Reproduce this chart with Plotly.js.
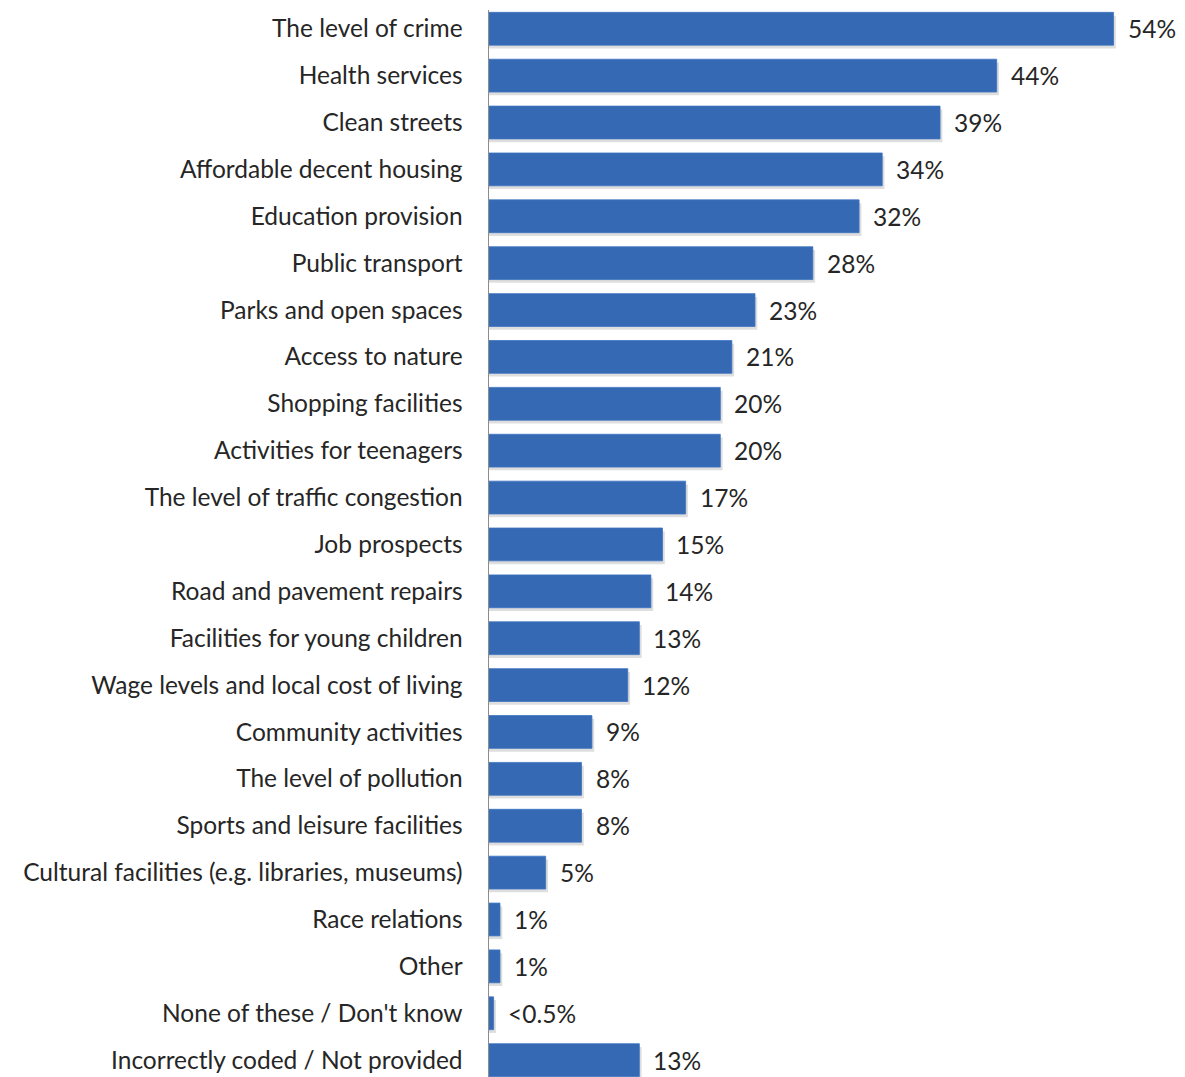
<!DOCTYPE html>
<html>
<head>
<meta charset="utf-8">
<script src="https://cdn.plot.ly/plotly-3.0.1.min.js"></script>
<style>
html,body{margin:0;padding:0;background:#fff;overflow:hidden;}
#chart{width:1185px;height:1077px;}
</style>
</head>
<body>
<div id="chart"></div>
<script>
const categories = [
  "The level of crime",
  "Health services",
  "Clean streets",
  "Affordable decent housing",
  "Education provision",
  "Public transport",
  "Parks and open spaces",
  "Access to nature",
  "Shopping facilities",
  "Activities for teenagers",
  "The level of traffic congestion",
  "Job prospects",
  "Road and pavement repairs",
  "Facilities for young children",
  "Wage levels and local cost of living",
  "Community activities",
  "The level of pollution",
  "Sports and leisure facilities",
  "Cultural facilities (e.g. libraries, museums)",
  "Race relations",
  "Other",
  "None of these / Don't know",
  "Incorrectly coded / Not provided"
];
const values = [54.0, 43.9, 39.0, 34.0, 32.0, 28.0, 23.0, 21.0, 20.0, 20.0, 17.0, 15.0, 14.0, 13.0, 12.0, 8.9, 8.0, 8.0, 4.9, 0.95, 0.95, 0.4, 13.0];
const valueLabels = ["54%","44%","39%","34%","32%","28%","23%","21%","20%","20%","17%","15%","14%","13%","12%","9%","8%","8%","5%","1%","1%","<0.5%","13%"];

const FONT = "Lato, 'Open Sans', sans-serif";

const shadow = {
  type: 'bar', orientation: 'h',
  y: categories, x: values.map(v => v + 0.2),
  width: 0.7, offset: -0.28,
  marker: {color: 'rgba(0,0,0,0.13)', line: {width: 0}},
  hoverinfo: 'skip', showlegend: false
};
const bars = {
  type: 'bar', orientation: 'h',
  y: categories, x: values,
  width: 0.7, offset: -0.35,
  marker: {color: '#3569b4', line: {color: '#3d74c2', width: 0.8}},
  showlegend: false
};

const annotations = categories.map((c, i) => ({
  x: values[i], y: c, xref: 'x', yref: 'y',
  text: valueLabels[i], showarrow: false,
  xanchor: 'left', yanchor: 'middle', xshift: 12,
  font: {family: FONT, size: 24.5, color: '#262626'}
}));

const layout = {
  width: 1185, height: 1077,
  margin: {l: 489, r: 0, t: 10, b: 0, pad: 0},
  paper_bgcolor: '#fff', plot_bgcolor: '#fff',
  barmode: 'overlay',
  showlegend: false,
  xaxis: {
    range: [0, 60.18], visible: false, fixedrange: true
  },
  yaxis: {
    type: 'category',
    range: [22.36, -0.4],
    showgrid: false, zeroline: false,
    showline: true, linecolor: '#8c8c8c', linewidth: 1.5,
    ticks: '', ticklabelstandoff: 20,
    tickfont: {family: FONT, size: 24.5, color: '#262626'},
    fixedrange: true
  },
  annotations: annotations
};

Plotly.newPlot('chart', [shadow, bars], layout, {staticPlot: true, displayModeBar: false});
</script>
</body>
</html>
